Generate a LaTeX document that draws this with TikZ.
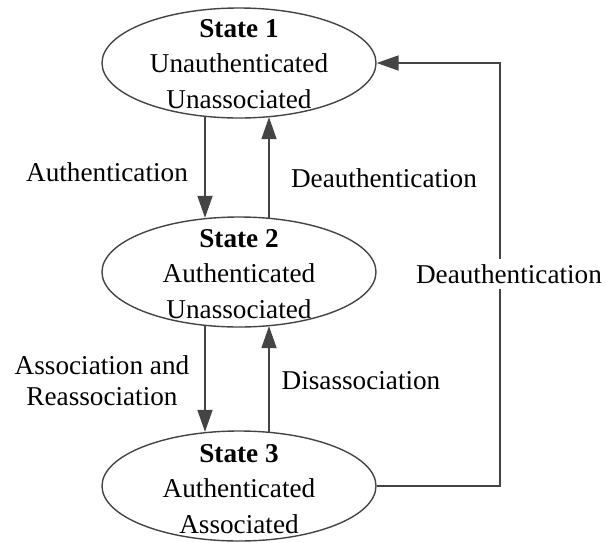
\documentclass[tikz,border=0pt]{standalone}
\usepackage{fontspec}
\setmainfont{Liberation Serif}
\usepackage{xcolor}
\usetikzlibrary{arrows.meta, shapes.geometric}

\definecolor{linegray}{HTML}{444444}

\begin{document}
\begin{tikzpicture}[
    x=1pt, y=-1pt,
    state/.style={ellipse, draw=linegray, line width=1.4pt, minimum width=274pt, minimum height=110pt, inner sep=0pt},
    statetext/.style={align=center, font=\fontsize{27.2}{35.5}\selectfont, inner sep=0pt},
    lbl/.style={align=center, font=\fontsize{27.2}{31}\selectfont, inner sep=3pt},
    connector/.style={-{Triangle[length=22pt, width=15pt]}, draw=linegray, line width=1.8pt},
]
    \useasboundingbox (0,0) rectangle (606,542);

    % States
    \node[state] (s1) at (239,63) {};
    \node[state] (s2) at (239,272) {};
    \node[state] (s3) at (239,486) {};
    \node[statetext] (s1text) at (239,64) {\textbf{State 1}\\Unauthenticated\\Unassociated};
    \node[statetext] (s2text) at (239,274) {\textbf{State 2}\\Authenticated\\Unassociated};
    \node[statetext] (s3text) at (239,489) {\textbf{State 3}\\Authenticated\\Associated};

    % Transitions between neighbours
    \draw[connector] ([xshift=-34pt, yshift=1.5pt]s1.south) -- ([xshift=-34pt, yshift=-1.5pt]s2.north);
    \draw[connector] ([xshift=30pt, yshift=-1.5pt]s2.north) -- ([xshift=30pt, yshift=1.5pt]s1.south);
    \draw[connector] ([xshift=-34pt, yshift=1.5pt]s2.south) -- ([xshift=-34pt, yshift=-1.5pt]s3.north);
    \draw[connector] ([xshift=30pt, yshift=-1.5pt]s3.north) -- ([xshift=30pt, yshift=1.5pt]s2.south);

    % Back to state 1
    \coordinate (turn) at (500,272);
    \draw[connector] (s3.east) -| (turn) |- (s1.east);

    % Labels
    \node[lbl] (auth) at (107,172) {Authentication};
    \node[lbl] (deauth) at (384,178) {Deauthentication};
    \node[lbl] (assoc) at (102,381) {Association and\\Reassociation};
    \node[lbl] (disassoc) at (361,381) {Disassociation};
    \node[lbl, fill=white, inner sep=5pt] (deauthall) at (509,274) {Deauthentication};
\end{tikzpicture}
\end{document}
